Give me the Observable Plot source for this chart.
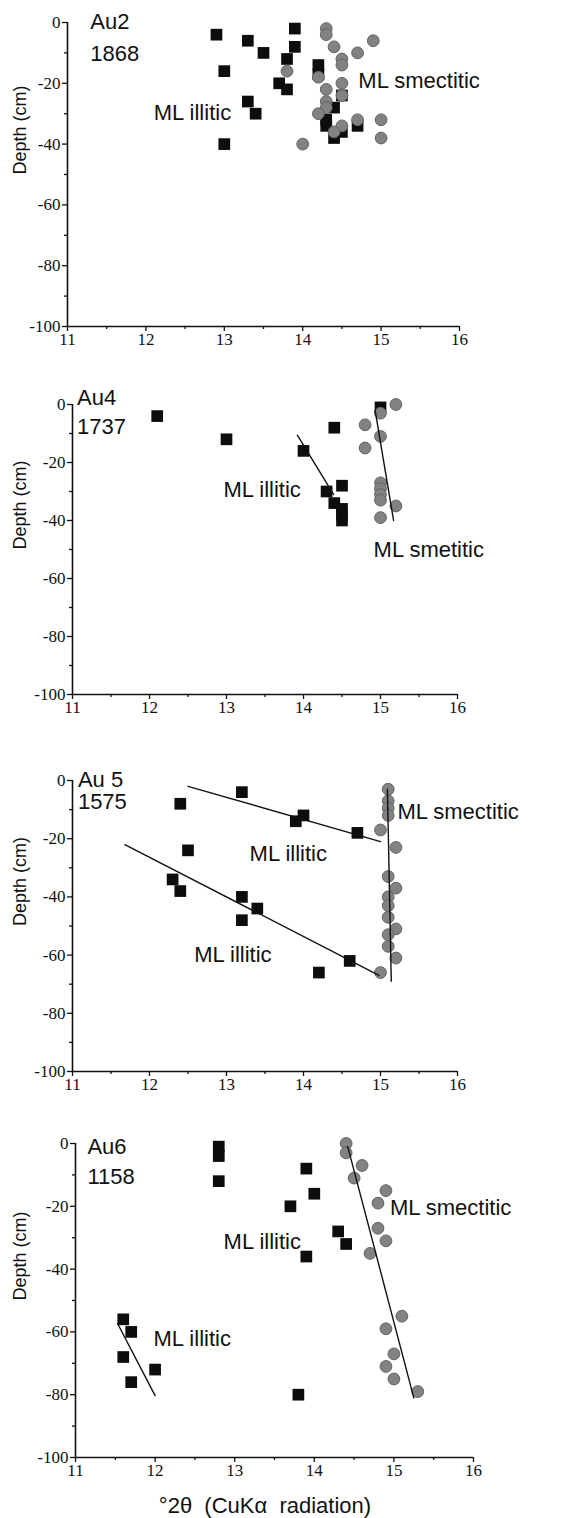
<!DOCTYPE html>
<html>
<head>
<meta charset="utf-8">
<script src="https://cdn.jsdelivr.net/npm/d3@7"></script>
<script src="https://cdn.jsdelivr.net/npm/@observablehq/plot@0.6"></script>
<style>
  html, body { margin: 0; padding: 0; background: #ffffff; }
  #wrap { position: relative; width: 568px; height: 1518px; overflow: hidden; background: #fff; }
  .panel { position: absolute; left: 0; }
  #xtitle { position: absolute; left: 0; width: 530px; top: 1493px; text-align: center;
            font: 22px "Liberation Sans", Arial, sans-serif; color: #111; white-space: pre; }
</style>
</head>
<body>
<div id="wrap"></div>
<script>
// ---------- axis ticks ----------
const xDomain = [11, 16];
const yDomain = [-100, 0];
const majorX = [11, 12, 13, 14, 15, 16];
const minorX = [11.5, 12.5, 13.5, 14.5, 15.5];
const majorY = [0, -20, -40, -60, -80, -100];
const minorY = [-10, -30, -50, -70, -90];
const yLabel = "Depth (cm)";
const xTitle = "°2θ  (CuKα  radiation)";

// ---------- Au2 (1868) ----------
const au2Illitic = [
  [12.9, -4], [13.3, -6], [13.5, -10], [13.9, -2], [13.9, -8], [13.8, -12], [13.0, -16],
  [13.7, -20], [13.8, -22], [13.3, -26], [13.4, -30], [13.0, -40], [14.2, -14], [14.2, -17],
  [14.4, -28], [14.3, -32], [14.3, -34], [14.4, -38], [14.5, -36], [14.7, -34], [14.5, -24]
];
const au2Smectitic = [
  [14.3, -2], [14.3, -4], [14.4, -8], [14.9, -6], [14.7, -10], [14.5, -12], [14.5, -14],
  [13.8, -16], [14.2, -18], [14.5, -20], [14.3, -22], [14.5, -24], [14.3, -26], [14.3, -28],
  [14.2, -30], [14.7, -32], [15.0, -32], [14.5, -34], [14.4, -36], [15.0, -38], [14.0, -40]
];
const au2Labels = [
  {x: 11.29, y: -2.3, text: "Au2"},
  {x: 11.29, y: -12.5, text: "1868"},
  {x: 12.10, y: -32.2, text: "ML illitic"},
  {x: 14.71, y: -21.4, text: "ML smectitic"}
];

// ---------- Au4 (1737) ----------
const au4Illitic = [
  [12.1, -4], [13.0, -12], [14.4, -8], [15.0, -1], [14.0, -16], [14.3, -30], [14.5, -28],
  [14.4, -34], [14.5, -36], [14.5, -38], [14.5, -40]
];
const au4Smectitic = [
  [15.2, 0], [15.0, -3], [14.8, -7], [15.0, -11], [14.8, -15], [15.0, -27], [15.0, -29],
  [15.0, -31], [15.0, -33], [15.2, -35], [15.0, -39]
];
const au4Fits = [
  [[13.92, -10.6], [14.39, -31]],
  [[14.93, -2], [15.17, -40]]
];
const au4Labels = [
  {x: 11.06, y: -0.2, text: "Au4"},
  {x: 11.06, y: -10, text: "1737"},
  {x: 12.96, y: -31.9, text: "ML illitic"},
  {x: 14.91, y: -52.7, text: "ML smetitic"}
];

// ---------- Au 5 (1575) ----------
const au5Illitic = [
  [13.2, -4], [12.4, -8], [13.9, -14], [14.0, -12], [14.7, -18], [12.5, -24], [12.3, -34],
  [12.4, -38], [13.2, -40], [13.4, -44], [13.2, -48], [14.2, -66], [14.6, -62]
];
const au5Smectitic = [
  [15.1, -3], [15.1, -7], [15.1, -9.5], [15.1, -12], [15.0, -17], [15.2, -23], [15.1, -33],
  [15.2, -37], [15.1, -40], [15.1, -43], [15.1, -47], [15.2, -51], [15.1, -53], [15.1, -57],
  [15.2, -61], [15.0, -66]
];
const au5Fits = [
  [[12.5, -2], [15.0, -21]],
  [[11.68, -22], [14.98, -67]],
  [[15.09, -3], [15.14, -69]]
];
const au5Labels = [
  {x: 11.07, y: -2.3, text: "Au 5"},
  {x: 11.07, y: -9.9, text: "1575"},
  {x: 15.22, y: -13.2, text: "ML smectitic"},
  {x: 13.30, y: -27.5, text: "ML illitic"},
  {x: 12.58, y: -62.2, text: "ML illitic"}
];

// ---------- Au6 (1158) ----------
const au6Illitic = [
  [12.8, -1], [12.8, -4], [12.8, -12], [13.9, -8], [14.0, -16], [13.7, -20], [14.3, -28],
  [14.4, -32], [13.9, -36], [11.6, -56], [11.7, -60], [11.6, -68], [12.0, -72], [11.7, -76],
  [13.8, -80]
];
const au6Smectitic = [
  [14.4, 0], [14.4, -3], [14.6, -7], [14.5, -11], [14.9, -15], [14.8, -19], [14.8, -27],
  [14.9, -31], [14.7, -35], [15.1, -55], [14.9, -59], [15.0, -67], [14.9, -71], [15.0, -75],
  [15.3, -79]
];
const au6Fits = [
  [[11.53, -57.4], [12.0, -80.3]],
  [[14.42, -1], [15.25, -81]]
];
const au6Labels = [
  {x: 11.15, y: -3.2, text: "Au6"},
  {x: 11.15, y: -12.8, text: "1158"},
  {x: 14.95, y: -22.9, text: "ML smectitic"},
  {x: 12.86, y: -33.5, text: "ML illitic"},
  {x: 11.98, y: -64.4, text: "ML illitic"}
];

// ---------- layout of the four panels ----------
const panels = [
  {ill: au2Illitic, sme: au2Smectitic, fits: [], labels: au2Labels,
   top: 0, height: 360, mt: 22, mb: 34, ml: 67, mr: 109},
  {ill: au4Illitic, sme: au4Smectitic, fits: au4Fits, labels: au4Labels,
   top: 360, height: 360, mt: 44, mb: 26, ml: 72, mr: 111},
  {ill: au5Illitic, sme: au5Smectitic, fits: au5Fits, labels: au5Labels,
   top: 720, height: 380, mt: 60, mb: 29, ml: 72, mr: 111},
  {ill: au6Illitic, sme: au6Smectitic, fits: au6Fits, labels: au6Labels,
   top: 1100, height: 390, mt: 43, mb: 33, ml: 75, mr: 95}
];

const serif = "Liberation Serif";
const sans = "Liberation Sans";
const wrap = document.getElementById("wrap");

for (const p of panels) {
  const fitMarks = p.fits.map(seg =>
    Plot.line(seg, {x: d => d[0], y: d => d[1], stroke: "#111", strokeWidth: 1.4}));
  const chart = Plot.plot({
    width: 568,
    height: p.height,
    marginTop: p.mt,
    marginBottom: p.mb,
    marginLeft: p.ml,
    marginRight: p.mr,
    style: {background: "transparent", color: "#111"},
    x: {domain: xDomain},
    y: {domain: yDomain},
    marks: [
      Plot.axisY({ticks: majorY, tickSize: 5, tickFormat: () => "", label: null, strokeWidth: 1.3}),
      Plot.axisY({ticks: minorY, tickSize: 3, tickFormat: () => "", label: null, strokeWidth: 1.3}),
      Plot.axisX({ticks: majorX, tickSize: 5, tickFormat: () => "", label: null, strokeWidth: 1.3}),
      Plot.axisX({ticks: minorX, tickSize: 3, tickFormat: () => "", label: null, strokeWidth: 1.3}),
      Plot.text(majorY, {y: d => d, frameAnchor: "left", dx: -7, textAnchor: "end", text: d => String(d),
        fontSize: () => 17, fontFamily: serif, fill: "#111"}),
      Plot.text(majorX, {x: d => d, frameAnchor: "bottom", dy: 6, lineAnchor: "top", text: d => String(d),
        fontSize: () => 17, fontFamily: serif, fill: "#111"}),
      Plot.ruleX([xDomain[0]], {stroke: "#111", strokeWidth: 1.6}),
      Plot.ruleY([yDomain[0]], {stroke: "#111", strokeWidth: 1.6}),
      Plot.text([yLabel], {frameAnchor: "left", text: d => d, rotate: -90, dx: -(p.ml - 20),
        fontSize: () => 18, fontFamily: sans, fill: "#111"}),
      Plot.dot(p.ill, {x: d => d[0], y: d => d[1], symbol: "square", r: 6.6, fill: "#0d0d0d", stroke: "none"}),
      Plot.dot(p.sme, {x: d => d[0], y: d => d[1], symbol: "circle", r: 5.9, fill: "#828282", stroke: "#646464", strokeWidth: 1}),
      ...fitMarks,
      Plot.text(p.labels, {x: "x", y: "y", text: "text", textAnchor: "start", lineAnchor: "bottom",
        fontSize: () => 22, fontFamily: sans, fill: "#111"})
    ]
  });
  chart.classList.add("panel");
  chart.style.top = p.top + "px";
  wrap.appendChild(chart);
}

const xt = document.createElement("div");
xt.id = "xtitle";
xt.textContent = xTitle;
wrap.appendChild(xt);
</script>
</body>
</html>
